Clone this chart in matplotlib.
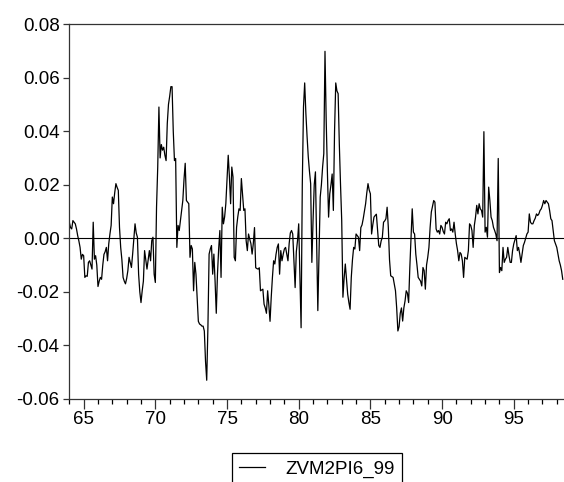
import numpy as np
import matplotlib.pyplot as plt
from matplotlib import rcParams
from matplotlib.ticker import FixedLocator, FormatStrFormatter

rcParams['font.family'] = ['Liberation Sans', 'DejaVu Sans']
rcParams['axes.unicode_minus'] = False

# monthly series, 1964M1 .. 1998M6 (units of 1e-3)
start_year = 1964
series_name = 'ZVM2PI6_99'
zvm = [
    6.0, 4.0, 3.5, 6.6, 6.0, 5.4, 3.5, 1.0, -1.0, -3.4, -7.8, -6.0,            # 64
    -6.5, -14.6, -14.0, -14.2, -9.0, -8.4, -10.0, -11.5, 6.0, -7.8, -6.5, -10.0,  # 65
    -18.0, -16.0, -14.6, -15.3, -10.0, -6.0, -5.0, -3.4, -8.4, -2.1, 1.6, 4.8,  # 66
    15.4, 12.9, 17.0, 20.4, 19.0, 17.9, 4.1, -3.4, -8.0, -14.6, -16.0, -17.0,  # 67
    -15.0, -12.1, -7.1, -9.0, -10.9, -5.9, 0.0, 5.4, 2.0, 0.4, -13.4, -20.0,   # 68
    -24.0, -19.6, -16.0, -4.6, -8.0, -11.5, -8.0, -4.6, -8.4, -0.9, 0.4, -13.4,  # 69
    -16.5, 11.6, 26.6, 49.0, 30.0, 35.0, 32.9, 34.0, 31.0, 29.0, 42.9, 50.0,   # 70
    53.0, 56.6, 56.6, 40.0, 29.0, 29.8, -3.4, 4.8, 2.9, 6.6, 10.0, 14.1,       # 71
    22.0, 28.0, 14.1, 13.5, 12.9, -7.1, -2.7, -4.0, -19.6, -9.0, -13.4, -22.0,  # 72
    -31.0, -32.0, -32.3, -32.8, -32.8, -34.6, -45.9, -53.0, -33.4, -5.9, -4.0, -2.7,  # 73
    -13.4, -5.9, -16.0, -28.0, -13.4, -4.0, 2.9, -14.6, 11.6, 5.4, 8.0, 12.9,  # 74
    22.0, 31.0, 22.9, 12.9, 26.6, 22.9, -7.1, -8.4, 4.1, 8.0, 11.0, 10.4,      # 75
    22.3, 16.6, 10.4, 11.0, -0.9, -4.6, 1.6, -0.3, -2.0, -5.9, -2.0, 4.0,      # 76
    -11.0, -11.3, -11.5, -11.0, -19.6, -19.3, -19.0, -24.6, -26.0, -28.0, -19.6, -25.0,  # 77
    -31.0, -22.0, -14.6, -8.4, -9.6, -6.0, -3.4, -2.1, -13.4, -4.6, -8.4, -6.0,  # 78
    -4.0, -3.4, -6.0, -8.4, -2.0, 2.0, 2.9, 1.6, -8.0, -18.4, -5.0, -0.9,      # 79
    5.4, -14.0, -33.4, 20.0, 49.0, 58.0, 46.6, 38.0, 30.4, 25.0, 20.4, -9.0,   # 80
    6.6, 20.0, 24.8, -0.9, -27.0, -5.0, 15.4, 20.0, 26.6, 31.6, 69.8, 44.1,    # 81
    25.0, 7.9, 16.6, 20.0, 24.0, 10.4, 40.0, 58.0, 55.0, 54.0, 35.0, 20.0,     # 82
    6.6, -22.0, -15.0, -9.6, -15.0, -20.9, -24.0, -26.5, -14.6, -8.0, -3.4, -4.0,  # 83
    1.6, 1.0, 0.4, -4.6, 4.0, 5.0, 7.3, 10.0, 12.9, 17.0, 20.4, 18.0,          # 84
    16.6, 1.6, 5.0, 7.9, 8.5, 9.0, 3.0, -2.7, -3.4, -1.0, 0.4, 6.0,            # 85
    6.5, 7.3, 11.6, 4.1, -8.0, -14.0, -14.3, -14.6, -17.0, -19.6, -26.0, -34.6,  # 86
    -33.0, -28.0, -26.0, -30.9, -26.0, -23.4, -19.6, -20.5, -24.0, -10.9, 0.4, 11.0,  # 87
    2.3, 1.6, -5.9, -10.0, -14.6, -15.3, -16.0, -17.8, -10.9, -12.1, -19.0, -10.0,  # 88
    -7.1, -3.4, 4.1, 9.8, 12.0, 14.1, 13.5, 3.5, 2.3, 2.9, 1.6, 4.8,           # 89
    4.1, 2.5, 1.6, 6.0, 5.4, 6.6, 7.3, 2.9, 3.5, 2.3, 6.0, 1.6,                # 90
    -2.0, -4.6, -8.4, -5.3, -5.9, -8.4, -14.6, -7.1, -7.5, -7.8, -4.6, 5.4,    # 91
    4.8, 2.9, -3.4, 4.8, 7.9, 12.3, 9.1, 12.9, 11.0, 10.4, 7.9, 39.8,          # 92
    2.3, 4.1, 0.4, 19.1, 14.1, 7.9, 6.6, 4.1, 2.9, 1.5, -0.9, 29.8,            # 93
    -12.8, -10.9, -12.1, -3.4, -9.0, -7.8, -7.1, -3.4, -6.5, -9.0, -9.0, -4.6,  # 94
    -2.1, -0.5, 1.0, -4.6, -3.4, -5.9, -9.0, -5.9, -2.7, -1.5, 0.0, 1.6,       # 95
    2.3, 9.1, 6.0, 5.4, 5.4, 6.6, 7.5, 9.1, 8.5, 9.1, 10.4, 11.0,              # 96
    12.3, 14.1, 12.9, 14.1, 13.5, 12.9, 10.4, 7.3, 6.6, 2.9, -0.9, -2.1,       # 97
    -3.4, -5.9, -8.4, -10.0, -12.1, -15.3,                                      # 98
]

y_ticks = [-0.06, -0.04, -0.02, 0.00, 0.02, 0.04, 0.06, 0.08]
x_major = [1965, 1970, 1975, 1980, 1985, 1990, 1995]
x_labels = ['65', '70', '75', '80', '85', '90', '95']
x_minor = list(range(1964, 1999))

values = np.array(zvm) / 1000.0
dates = start_year + np.arange(len(values)) / 12.0

fig = plt.figure(figsize=(5.64, 4.82), dpi=100)
ax = fig.add_axes([0.1229, 0.1722, 0.877, 0.778])

ax.axhline(0, color='black', lw=0.8, zorder=1)
line, = ax.plot(dates, values, color='black', lw=0.9, label=series_name, zorder=2)

ax.set_xlim(1964, 1998.5)
ax.set_ylim(-0.06, 0.08)

ax.yaxis.set_major_locator(FixedLocator(y_ticks))
ax.yaxis.set_major_formatter(FormatStrFormatter('%.2f'))
ax.set_xticks(x_major)
ax.set_xticklabels(x_labels)
ax.xaxis.set_minor_locator(FixedLocator(x_minor))

ax.tick_params(axis='both', labelsize=13.5, colors='#333333', labelcolor='black')
ax.tick_params(axis='y', direction='out', length=4.5, width=0.9, pad=2.5)
ax.tick_params(axis='x', which='major', direction='out', length=7, width=0.9, pad=1.5)
ax.tick_params(axis='x', which='minor', direction='out', length=3.5, width=0.9)

ax.spines['right'].set_visible(False)
for s in ['left', 'bottom', 'top']:
    ax.spines[s].set_color('#333333')
    ax.spines[s].set_linewidth(0.9)

leg = fig.legend(handles=[line], loc='upper left',
                 bbox_to_anchor=(231.7 / 564, 1 - 453 / 482),
                 fontsize=13.5, frameon=True, fancybox=False, framealpha=1,
                 edgecolor='black', handlelength=1.4, handletextpad=1.05,
                 borderpad=0.4, borderaxespad=0)
leg.get_frame().set_linewidth(0.9)

fig.savefig('out.png', dpi=100)
